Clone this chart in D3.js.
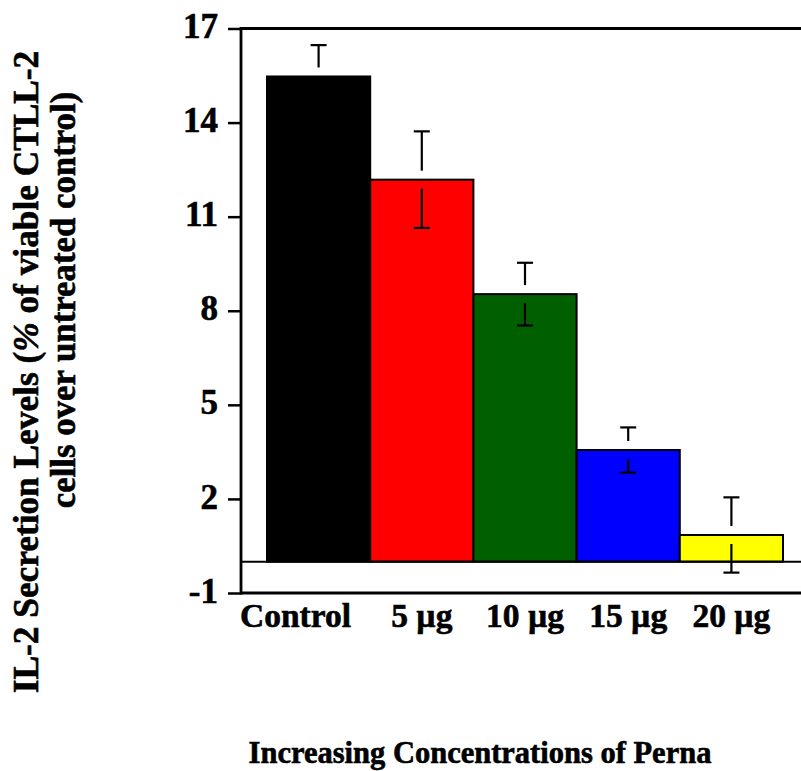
<!DOCTYPE html>
<html>
<head>
<meta charset="utf-8">
<script src="https://cdn.jsdelivr.net/npm/d3@7"></script>
<style>
  html, body { margin: 0; padding: 0; background: #fff; }
  svg { display: block; }
  text { font-family: "Liberation Serif", "Times New Roman", serif; font-weight: bold; fill: #000; stroke: #000; stroke-width: 0.6px; }
</style>
</head>
<body>
<svg id="chart" width="801" height="771"></svg>
<script>
// ---- data ----
const categories = ["Control", "5 µg", "10 µg", "15 µg", "20 µg"];
const values = [15.47, 12.18, 8.53, 3.56, 0.85];
const errors = [1.0, 1.54, 1.0, 0.72, 1.2];
const barColors = ["#000000", "#ff0000", "#006000", "#0000ff", "#ffff00"];
const yTicks = [-1, 2, 5, 8, 11, 14, 17];
const yTitleLine1 = ["IL-2 Secretion Levels (", "%", " of viable CTLL-2"];
const yTitleLine2 = "cells over untreated control)";
const xTitle = "Increasing Concentrations of Perna";

// ---- layout ----
const svg = d3.select("#chart");
const axisX = 241, plotRight = 801, yTop = 28.5, yBottom = 593;

const y = d3.scaleLinear().domain([-1, 17]).range([yBottom, yTop]);
const x = d3.scaleBand().domain(categories).range([267, 783]).padding(0);

// bars
svg.append("g").selectAll("rect").data(categories).join("rect")
  .attr("x", d => x(d))
  .attr("width", x.bandwidth())
  .attr("y", (d, i) => y(Math.max(0, values[i])))
  .attr("height", (d, i) => Math.abs(y(values[i]) - y(0)))
  .attr("fill", (d, i) => barColors[i])
  .attr("stroke", "#000")
  .attr("stroke-width", 2);

// zero line
svg.append("line")
  .attr("x1", axisX).attr("x2", plotRight)
  .attr("y1", y(0)).attr("y2", y(0))
  .attr("stroke", "#000").attr("stroke-width", 2);

// error bars (with gap around the bar top)
const gap = 9, cap = 8;
const eg = svg.append("g").attr("stroke", "#000").attr("stroke-width", 2.2);
categories.forEach((c, i) => {
  const cx = x(c) + x.bandwidth() / 2;
  const ym = y(values[i]);
  const yt = y(values[i] + errors[i]);
  const yb = y(values[i] - errors[i]);
  eg.append("line").attr("x1", cx).attr("x2", cx).attr("y1", yt).attr("y2", ym - gap);
  eg.append("line").attr("x1", cx - cap).attr("x2", cx + cap).attr("y1", yt).attr("y2", yt);
  eg.append("line").attr("x1", cx).attr("x2", cx).attr("y1", ym + gap).attr("y2", yb);
  eg.append("line").attr("x1", cx - cap).attr("x2", cx + cap).attr("y1", yb).attr("y2", yb);
});

// frame lines
svg.append("line").attr("x1", axisX).attr("x2", plotRight).attr("y1", yTop).attr("y2", yTop)
  .attr("stroke", "#000").attr("stroke-width", 2.8);
svg.append("line").attr("x1", axisX).attr("x2", plotRight).attr("y1", yBottom).attr("y2", yBottom)
  .attr("stroke", "#000").attr("stroke-width", 2.8);
svg.append("line").attr("x1", axisX).attr("x2", axisX).attr("y1", yTop - 1.4).attr("y2", yBottom + 1.4)
  .attr("stroke", "#000").attr("stroke-width", 2.8);

// y axis
const yAxis = d3.axisLeft(y).tickValues(yTicks).tickSize(13).tickPadding(10)
  .tickFormat(d => String(d).replace("−", "-"));
const ga = svg.append("g").attr("transform", `translate(${axisX},0)`).call(yAxis);
ga.select(".domain").remove();
ga.selectAll(".tick line").attr("stroke", "#000").attr("stroke-width", 2.5);
ga.selectAll(".tick text")
  .attr("font-family", "Liberation Serif, Times New Roman, serif")
  .attr("font-weight", "bold")
  .attr("font-size", 35)
  .attr("dy", "0.26em")
  .attr("fill", "#000");

// x category labels
svg.append("g").selectAll("text").data(categories).join("text")
  .attr("x", (d, i) => i === 0 ? axisX - 1 : x(d) + x.bandwidth() / 2)
  .attr("y", 627)
  .attr("text-anchor", (d, i) => i === 0 ? "start" : "middle")
  .attr("font-size", 33.5)
  .text(d => d);

// y title
const t1 = svg.append("text")
  .attr("transform", "translate(38,372) rotate(-90)")
  .attr("text-anchor", "middle")
  .attr("font-size", 35.3);
yTitleLine1.forEach((s, i) => {
  t1.append("tspan").attr("font-style", i === 1 ? "italic" : "normal").text(s);
});
svg.append("text")
  .attr("transform", "translate(75,300) rotate(-90)")
  .attr("text-anchor", "middle")
  .attr("font-size", 34.8)
  .text(yTitleLine2);

// x title
svg.append("text")
  .attr("x", 480).attr("y", 763)
  .attr("text-anchor", "middle")
  .attr("font-size", 30.5)
  .text(xTitle);
</script>
</body>
</html>
